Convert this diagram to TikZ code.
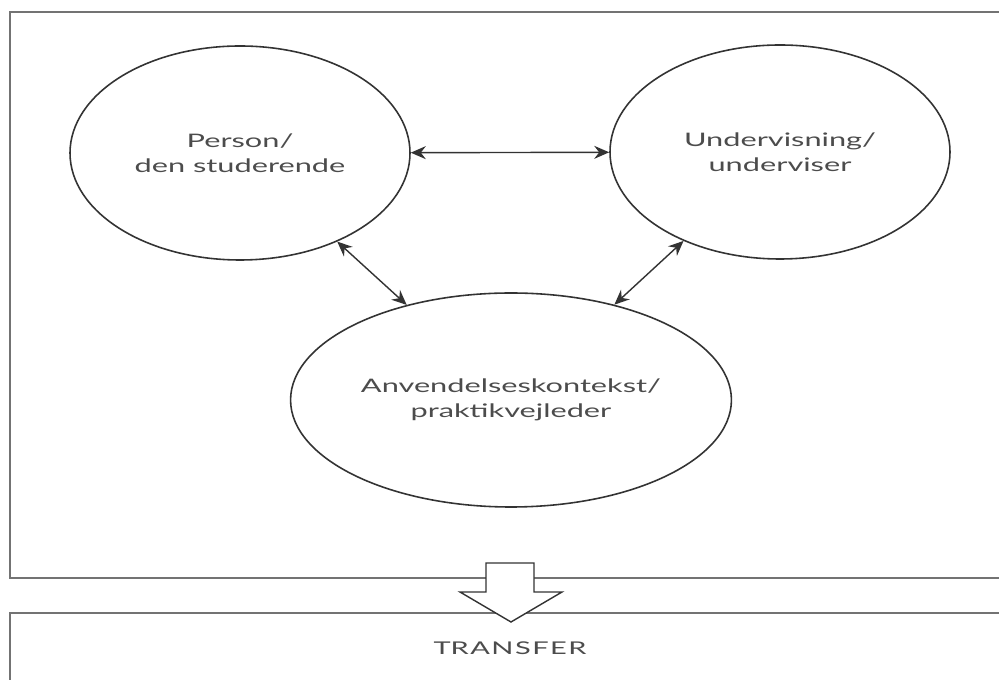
\documentclass[tikz,border=0pt]{standalone}
\usepackage{fontspec}
\setmainfont{Lato}
\usepackage{graphicx}
\usetikzlibrary{arrows.meta, shapes.geometric}

% the scan is stretched sideways, so the text is too
\newcommand{\wide}[1]{\scalebox{1.65}[1]{#1}}

\begin{document}
\begin{tikzpicture}[
    blob/.style={ellipse, draw=black!80, line width=0.9pt, minimum width=6.8cm, minimum height=4.28cm, align=center, text=black!70, font=\fontsize{10.6}{14}\selectfont},
    frame/.style={draw=black!55, line width=0.7pt},
    arrow/.style={{Stealth[length=3mm, width=2.6mm, inset=1mm]}-{Stealth[length=3mm, width=2.6mm, inset=1mm]}, draw=black!80, line width=0.8pt}
]

% Page size, the frames run off to the right and bottom
\useasboundingbox (0,0) rectangle (19.98,13.6);
\clip (0,0) rectangle (19.98,13.6);
\fill[white] (0,0) rectangle (19.98,13.6);

% Frames
\draw[frame] (21,2.04) -- (0.2,2.04) -- (0.2,13.36) -- (21,13.36);
\draw[frame] (21,1.34) -- (0.2,1.34) -- (0.2,-1);

% The three circles
\node[blob] (person) at (4.8, 10.54) {\wide{Person/}\\ \wide{den studerende}};
\node[blob] (teach) at (15.6, 10.56) {\wide{Undervisning/}\\ \wide{underviser}};
\node[blob] (context) at (10.22, 5.6) {\wide{Anvendelseskontekst/}\\ \wide{praktikvejleder}};

% Connections
\draw[arrow] (person) -- (teach);
\draw[arrow] (person) -- (context);
\draw[arrow] (teach) -- (context);

% Block arrow down to the transfer box
\draw[frame, draw=black!80, fill=white, line width=0.8pt] (9.72,2.34) -- (10.68,2.34) -- (10.68,1.76) -- (11.24,1.76) -- (10.22,1.16) -- (9.2,1.76) -- (9.72,1.76) -- cycle;
\node[text=black!70, font=\fontsize{10}{12}\selectfont] (transfer) at (10.2, 0.64) {\wide{TR\kern0.5pt A\kern0.5pt N\kern0.5pt S\kern0.5pt F\kern0.5pt E\kern0.5pt R}};

\end{tikzpicture}
\end{document}
